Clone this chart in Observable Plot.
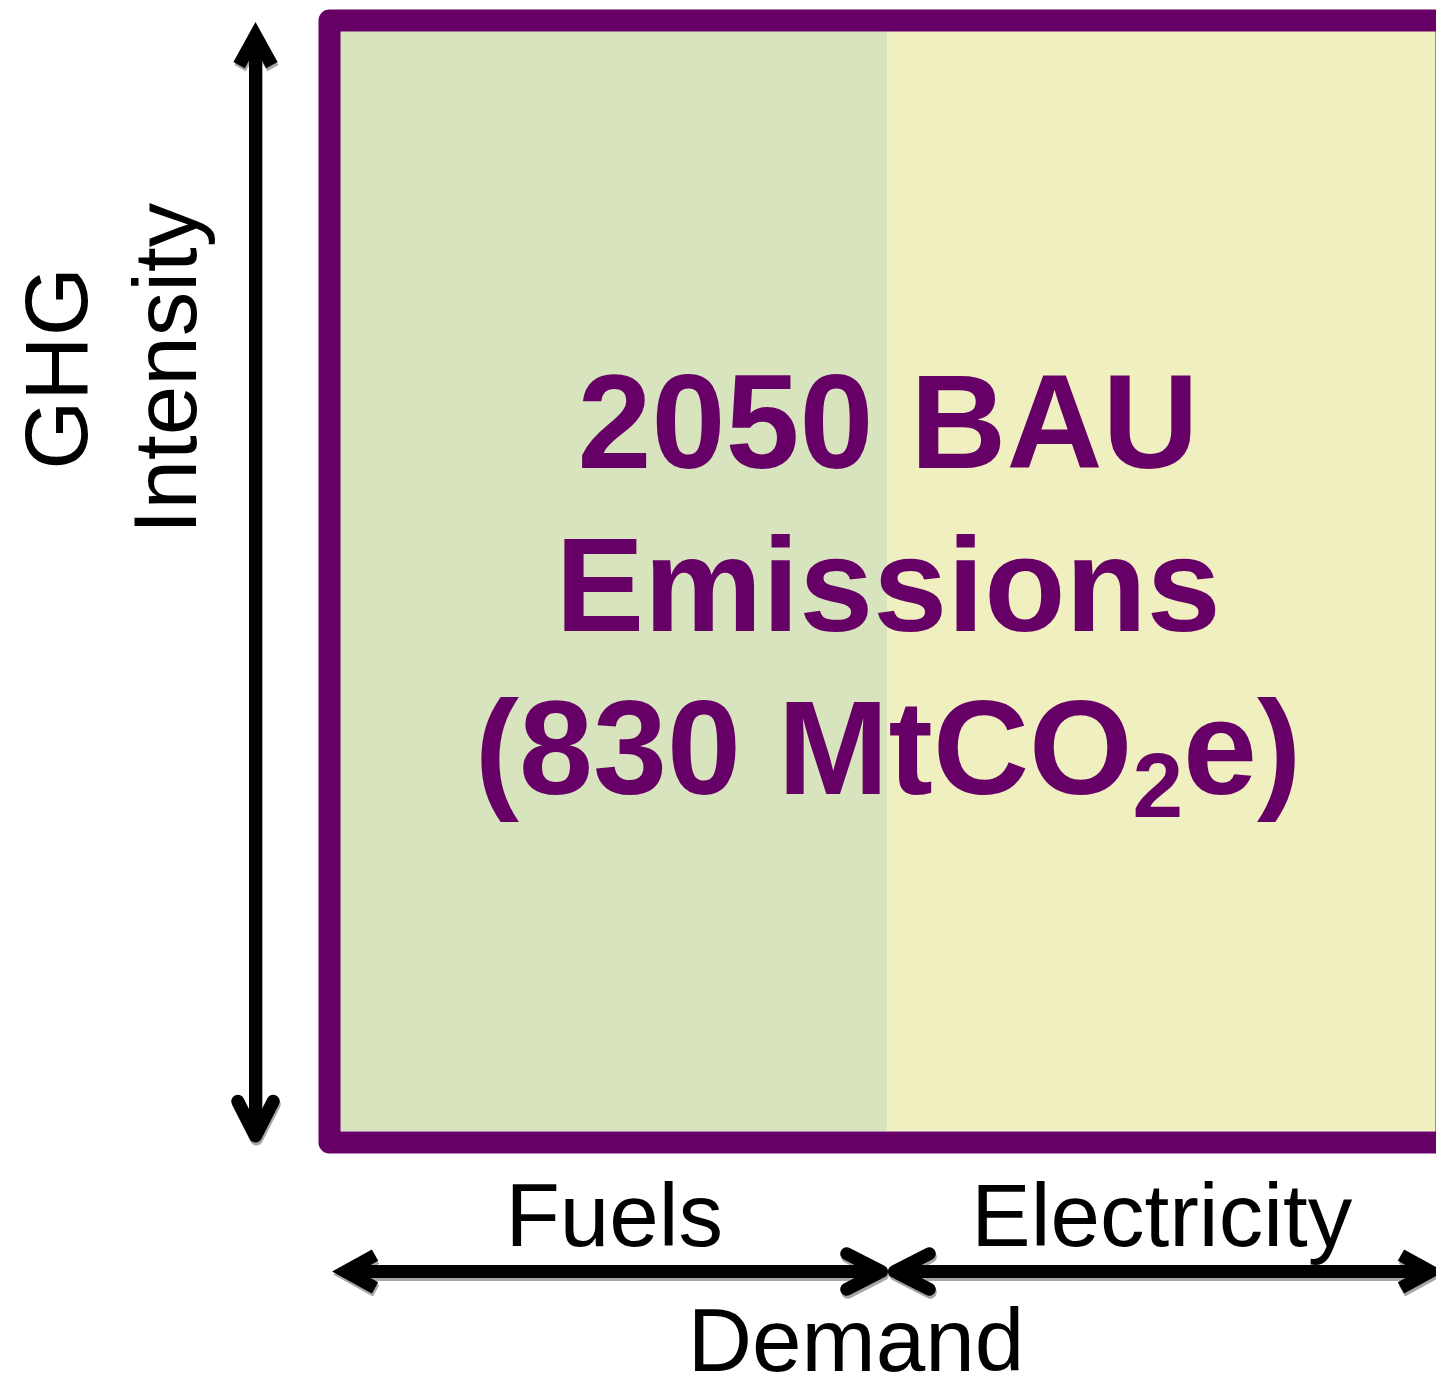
<!DOCTYPE html>
<html><head><meta charset="utf-8">
<script src="https://cdn.jsdelivr.net/npm/d3@7"></script>
<script src="https://cdn.jsdelivr.net/npm/@observablehq/plot@0.6"></script>
<style>body{margin:0;background:#fff;} svg{display:block}</style>
</head><body><div id="chart"></div>
<script>
// ---- data ----
const segments = ["Fuels", "Electricity"];
const demandStart = [0, 0.5];
const demandEnd = [0.5, 1];
const segmentColors = ["#d7e4bd", "#f0efbf"];
const intensityRange = [0, 1];
const titleLines = ["2050 BAU", "Emissions", "(830 MtCO2e)"];
const yAxisLabel = ["GHG", "Intensity"];
const xAxisLabel = "Demand";

// ---- derived tables ----
const segs = segments.map((name, i) => ({
  name, x1: demandStart[i], x2: demandEnd[i],
  mid: (demandStart[i] + demandEnd[i]) / 2, color: segmentColors[i]
}));
const xMin = demandStart[0], xMax = demandEnd[demandEnd.length - 1];
const yLo = intensityRange[0], yHi = intensityRange[1], yMid = (yLo + yHi) / 2;

const hOuter = [], hInner = [];
segs.forEach(s => {
  (s.x1 === xMin ? hOuter : hInner).push({x1: s.mid, x2: s.x1});
  (s.x2 === xMax ? hOuter : hInner).push({x1: s.mid, x2: s.x2});
});
const vUp = [{y1: yMid, y2: yHi}];
const vDown = [{y1: yMid, y2: yLo}];

const PURPLE = "#660066";
const FONT = "Liberation Sans, Arial, Helvetica, sans-serif";

const sharp = {headAngle: 58, headLength: 3.9, strokeLinejoin: "miter", strokeMiterlimit: 10, strokeLinecap: "butt"};
const round = {headAngle: 54, headLength: 4.5, strokeLinejoin: "round", strokeLinecap: "round"};

const hOpts = {x1: "x1", x2: "x2", y1: () => yLo, y2: () => yLo, dy: 140};
const vOpts = {x1: () => xMin, x2: () => xMin, y1: "y1", y2: "y2", dx: -85};

const arrowSpecs = [
  [hOuter, {...hOpts, insetEnd: 5}, sharp],
  [hInner, {...hOpts, insetEnd: 6.5}, round],
  [vUp, {...vOpts, insetEnd: 4}, sharp],
  [vDown, {...vOpts, insetEnd: -4.5}, round]
];
const shadowMarks = arrowSpecs.map(([data, opts, style]) =>
  Plot.arrow(data, {strokeWidth: 13, ...opts, ...style, stroke: "#a6a6a6", dx: (opts.dx || 0) + 1, dy: (opts.dy || 0) + 3}));
const arrowMarks = arrowSpecs.map(([data, opts, style]) =>
  Plot.arrow(data, {strokeWidth: 13, ...opts, ...style, stroke: "#000"}));

const chart = Plot.plot({
  width: 1436, height: 1377,
  marginLeft: 340, marginRight: 1, marginTop: 31, marginBottom: 246,
  x: {domain: [xMin, xMax], axis: null},
  y: {domain: intensityRange, axis: null},
  style: {fontFamily: FONT, background: "#fff"},
  marks: [
    Plot.rect(segs, {x1: "x1", x2: "x2", y1: () => yLo, y2: () => yHi, fill: "color"}),
    Plot.frame({stroke: PURPLE, strokeWidth: 22, inset: -11, strokeLinejoin: "round"}),
    Plot.text([titleLines.join("\n")], {
      x: () => (xMin + xMax) / 2, y: () => yMid, text: d => d,
      fill: PURPLE, fontSize: 133, fontWeight: "bold", lineHeight: 1.226, dy: -3, fontFamily: FONT
    }),
    Plot.text([yAxisLabel.join("\n")], {
      frameAnchor: "left", textAnchor: "middle", text: d => d, rotate: -90, dx: -234, dy: -213,
      fontSize: 89, lineHeight: 1.225, fill: "#000", fontFamily: FONT
    }),
    Plot.text(segs, {
      x: "mid", y: () => yLo, text: "name", dy: 86,
      fontSize: 89, fill: "#000", fontFamily: FONT
    }),
    Plot.text([xAxisLabel], {
      x: () => (xMin + xMax) / 2, y: () => yLo, text: d => d, dy: 211, dx: -32,
      fontSize: 89, fill: "#000", fontFamily: FONT
    }),
    ...shadowMarks,
    ...arrowMarks
  ]
});
document.getElementById("chart").appendChild(chart);

// subscript the "2" in CO2
d3.select(chart).selectAll("tspan").each(function() {
  if (this.textContent === "(830 MtCO2e)") {
    const t = d3.select(this);
    t.text("(830 MtCO");
    t.append("tspan").attr("font-size", 91).attr("dy", 23).text("2");
    t.append("tspan").attr("dy", -23).text("e)");
  }
});
</script>
</body></html>
